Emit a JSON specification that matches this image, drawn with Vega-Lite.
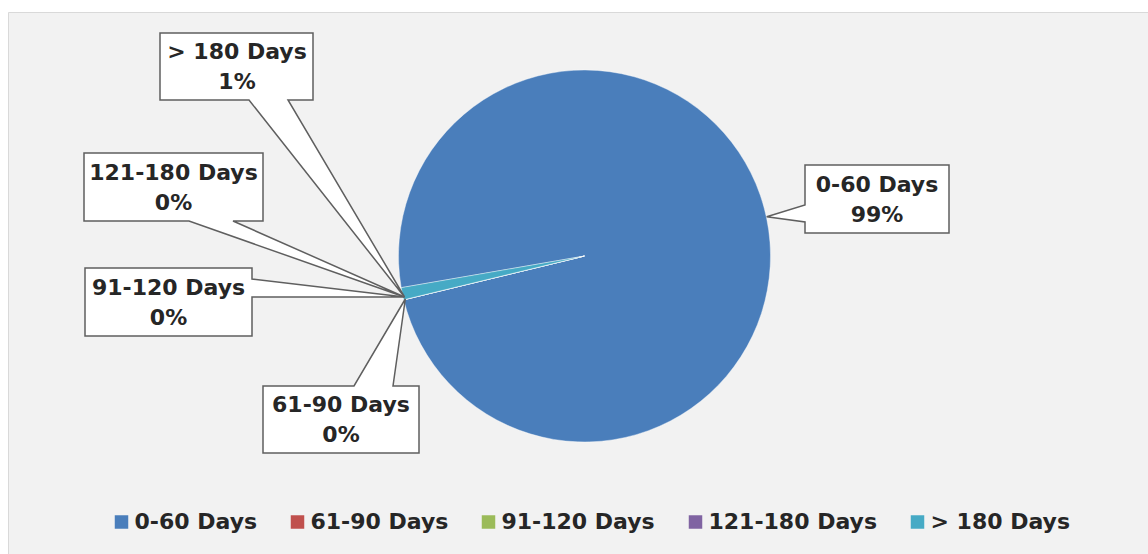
{
  "$schema": "https://vega.github.io/schema/vega-lite/v6.json",
  "width": 1140,
  "height": 542,
  "autosize": {"type": "none"},
  "padding": {"left": 8, "top": 12, "right": 0, "bottom": 0},
  "background": "#ffffff",
  "view": {"fill": "#f2f2f2", "stroke": "#d9d9d9", "strokeWidth": 1},
  "config": {
    "font": "DejaVu Sans",
    "text": {"font": "DejaVu Sans", "fontSize": 22, "fontWeight": "bold", "fill": "#262626", "align": "center", "baseline": "middle"},
    "point": {"filled": true, "fill": "#ffffff", "stroke": "#5f5f5f", "strokeWidth": 1.5, "size": 4, "opacity": 1}
  },
  "data": {
    "values": [
      {"category": "0-60 Days", "value": 0.9894},
      {"category": "61-90 Days", "value": 0},
      {"category": "91-120 Days", "value": 0},
      {"category": "121-180 Days", "value": 0},
      {"category": "> 180 Days", "value": 0.0106}
    ]
  },
  "layer": [
    {
      "mark": {"type": "arc", "outerRadius": 186, "xOffset": 6.5, "yOffset": -27, "stroke": "#ffffff", "strokeWidth": 0.4},
      "encoding": {
        "theta": {"field": "value", "type": "quantitative", "stack": true, "scale": {"range": [4.5414, 10.8246]}},
        "color": {
          "field": "category",
          "type": "nominal",
          "scale": {
            "domain": ["0-60 Days", "61-90 Days", "91-120 Days", "121-180 Days", "> 180 Days"],
            "range": ["#4a7ebb", "#c0504d", "#9bbb59", "#8064a2", "#46aac5"]
          },
          "legend": {
            "orient": "none",
            "legendX": 102.5,
            "legendY": 499,
            "direction": "horizontal",
            "columns": 5,
            "gridAlign": "each",
            "title": null,
            "symbolType": "square",
            "symbolSize": 182,
            "symbolStrokeWidth": 0,
            "labelFont": "DejaVu Sans",
            "labelFontSize": 22,
            "labelFontWeight": "bold",
            "labelColor": "#262626",
            "labelOffset": 2,
            "labelLimit": 0,
            "columnPadding": 29,
            "padding": 0
          }
        }
      }
    },
    {"transform": [{"filter": {"field": "category", "equal": "0-60 Days"}}], "mark": {"type": "point", "xOffset": 6, "yOffset": -27, "shape": "M221,-91H365V-23H221V-34L182.7,-39.3L221,-51Z"}},
    {"transform": [{"filter": {"field": "category", "equal": "61-90 Days"}}], "mark": {"type": "point", "xOffset": 6, "yOffset": -27, "shape": "M-321,130H-230L-178.7,43L-191,130H-165V197H-321Z"}},
    {"transform": [{"filter": {"field": "category", "equal": "91-120 Days"}}], "mark": {"type": "point", "xOffset": 6, "yOffset": -27, "shape": "M-499,12H-332V23L-179.5,41L-332,41V80H-499Z"}},
    {"transform": [{"filter": {"field": "category", "equal": "121-180 Days"}}], "mark": {"type": "point", "xOffset": 6, "yOffset": -27, "shape": "M-500,-103H-321V-35H-351L-179.5,41L-395,-35H-500Z"}},
    {"transform": [{"filter": {"field": "category", "equal": "> 180 Days"}}], "mark": {"type": "point", "xOffset": 6, "yOffset": -27, "shape": "M-424,-223H-271V-156H-296L-179.5,41L-335,-156H-424Z"}},
    {"transform": [{"filter": {"field": "category", "equal": "0-60 Days"}}], "mark": {"type": "text", "dx": 299, "dy": -98.5}, "encoding": {"text": {"field": "category"}}},
    {"transform": [{"filter": {"field": "category", "equal": "0-60 Days"}}], "mark": {"type": "text", "dx": 299, "dy": -68.5}, "encoding": {"text": {"field": "value", "type": "quantitative", "format": ".0%"}}},
    {"transform": [{"filter": {"field": "category", "equal": "61-90 Days"}}], "mark": {"type": "text", "dx": -237, "dy": 121.7}, "encoding": {"text": {"field": "category"}}},
    {"transform": [{"filter": {"field": "category", "equal": "61-90 Days"}}], "mark": {"type": "text", "dx": -237, "dy": 151.7}, "encoding": {"text": {"field": "value", "type": "quantitative", "format": ".0%"}}},
    {"transform": [{"filter": {"field": "category", "equal": "91-120 Days"}}], "mark": {"type": "text", "dx": -409.5, "dy": 4.5}, "encoding": {"text": {"field": "category"}}},
    {"transform": [{"filter": {"field": "category", "equal": "91-120 Days"}}], "mark": {"type": "text", "dx": -409.5, "dy": 35}, "encoding": {"text": {"field": "value", "type": "quantitative", "format": ".0%"}}},
    {"transform": [{"filter": {"field": "category", "equal": "121-180 Days"}}], "mark": {"type": "text", "dx": -404.5, "dy": -110}, "encoding": {"text": {"field": "category"}}},
    {"transform": [{"filter": {"field": "category", "equal": "121-180 Days"}}], "mark": {"type": "text", "dx": -404.5, "dy": -80}, "encoding": {"text": {"field": "value", "type": "quantitative", "format": ".0%"}}},
    {"transform": [{"filter": {"field": "category", "equal": "> 180 Days"}}], "mark": {"type": "text", "dx": -341, "dy": -231}, "encoding": {"text": {"field": "category"}}},
    {"transform": [{"filter": {"field": "category", "equal": "> 180 Days"}}], "mark": {"type": "text", "dx": -341, "dy": -201}, "encoding": {"text": {"field": "value", "type": "quantitative", "format": ".0%"}}}
  ]
}
